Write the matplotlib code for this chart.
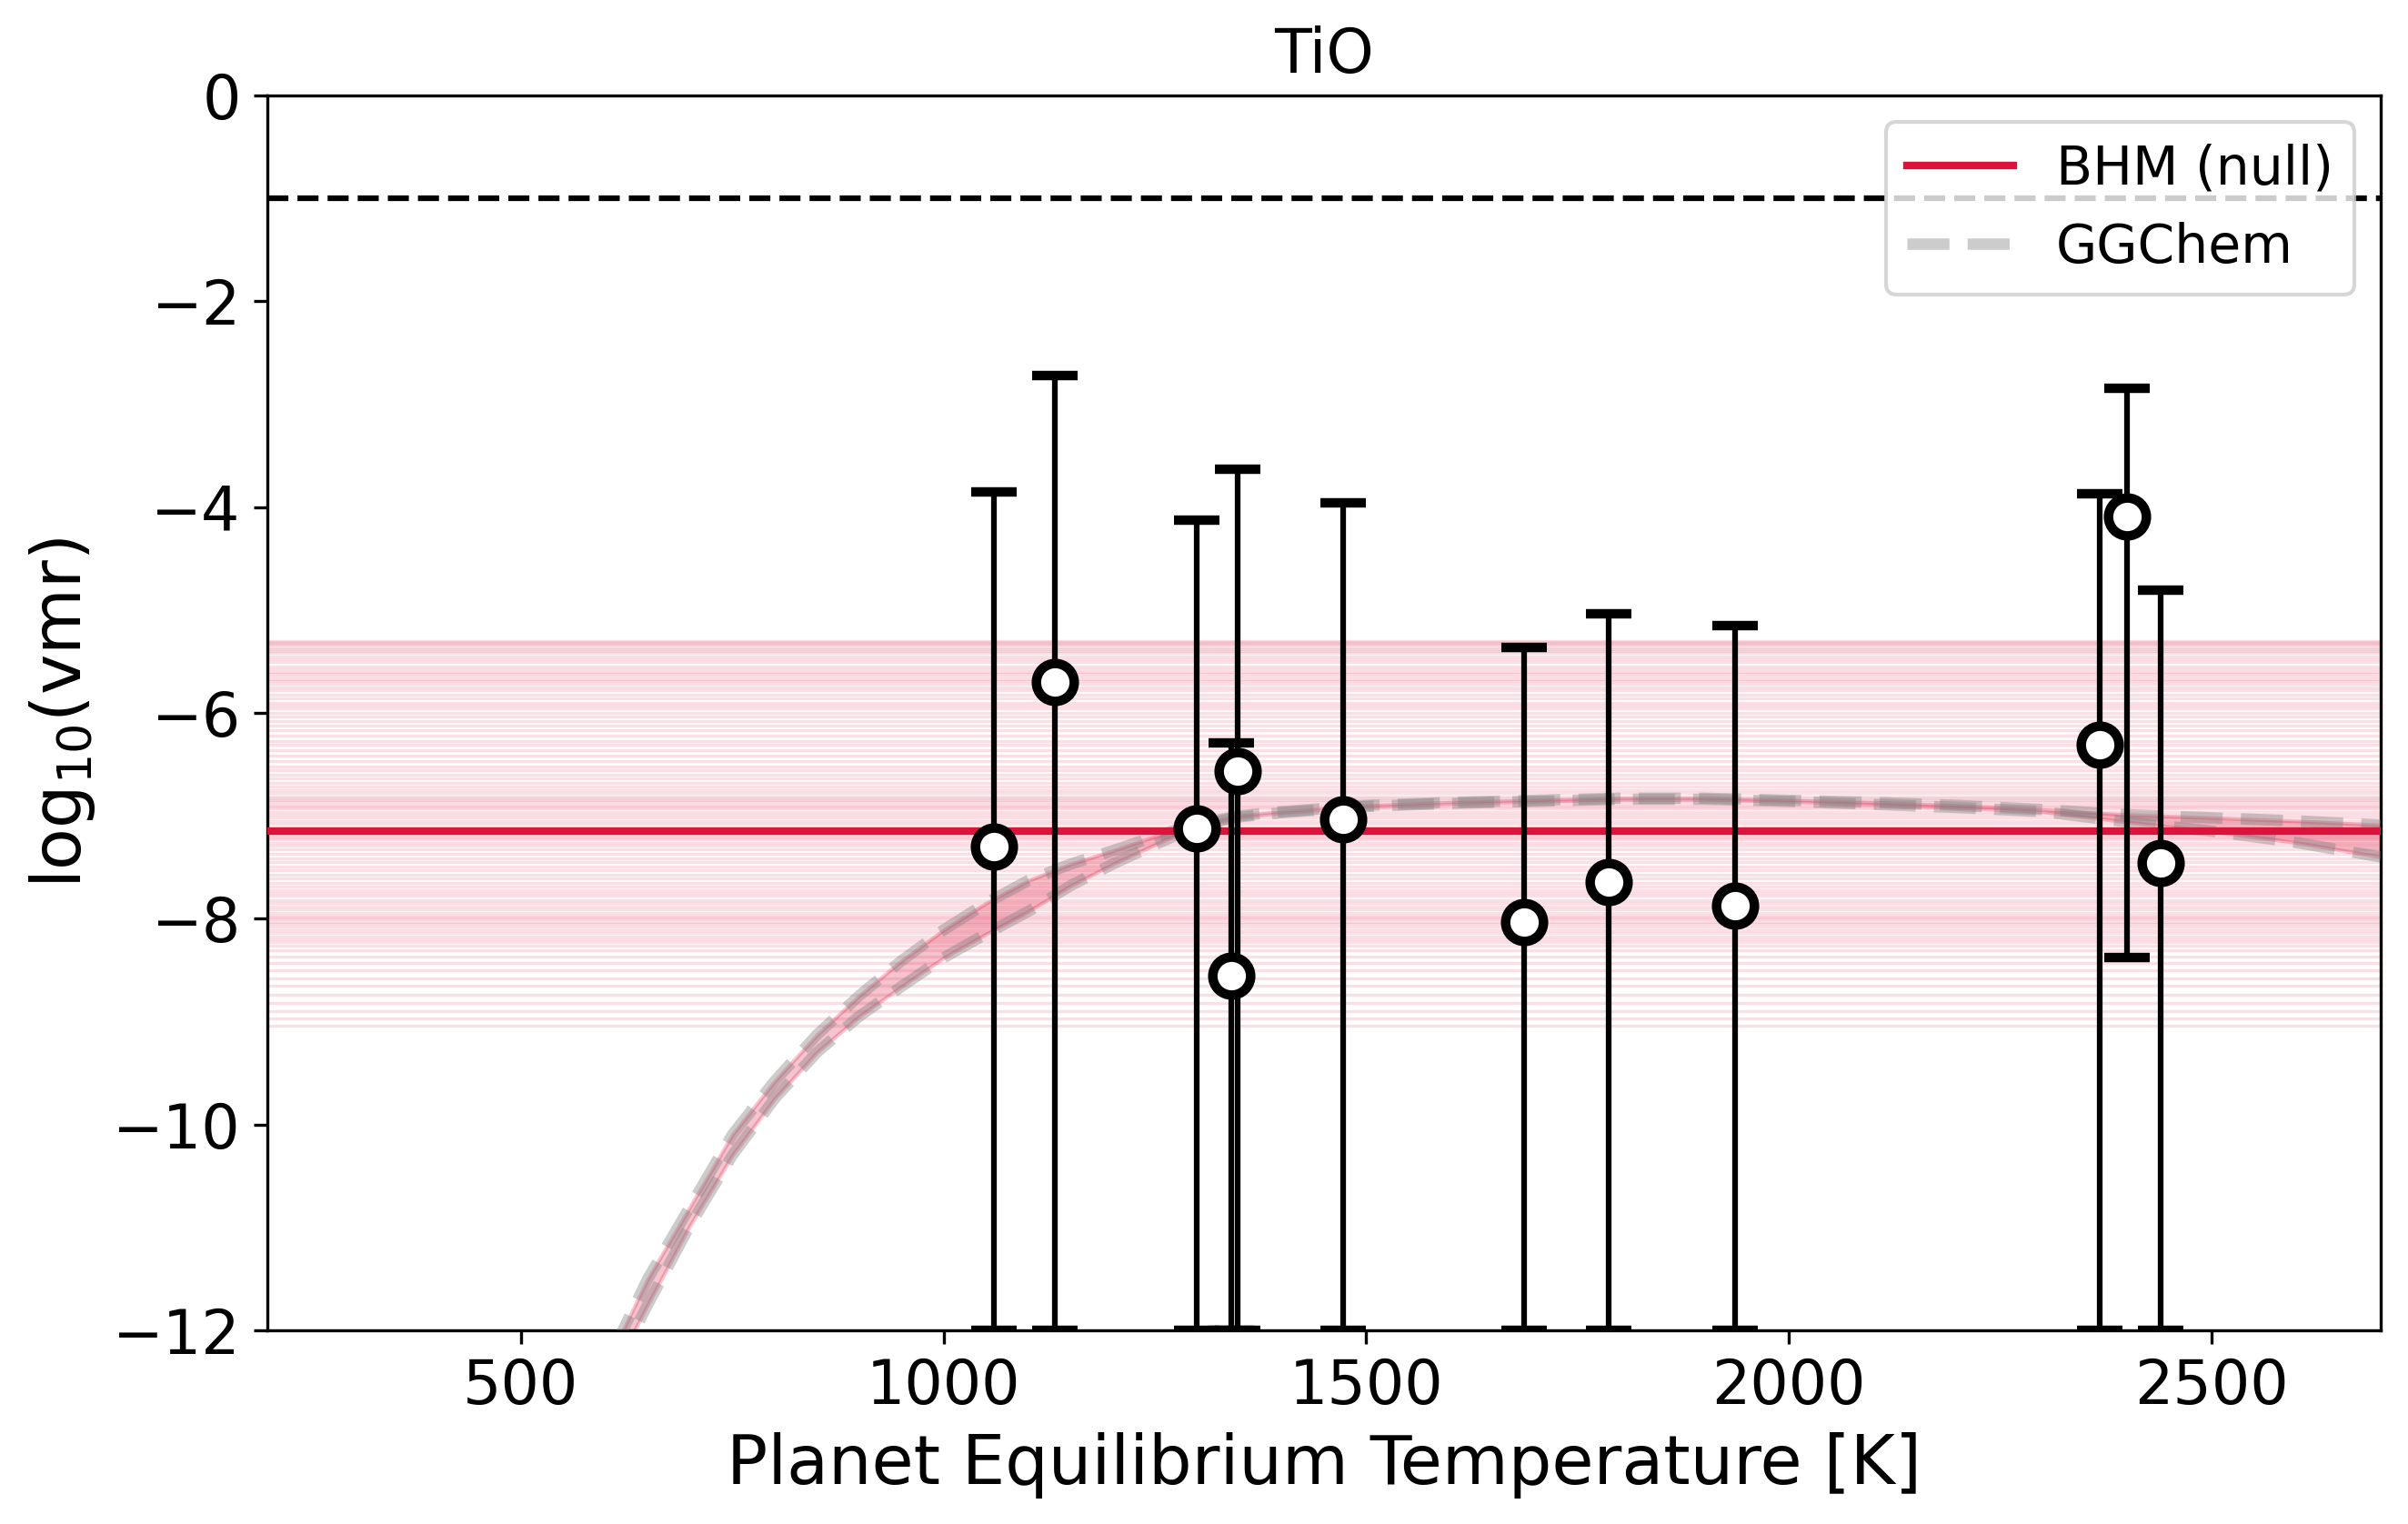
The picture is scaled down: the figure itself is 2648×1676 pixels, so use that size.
import numpy as np
import matplotlib
matplotlib.use("Agg")
import matplotlib.pyplot as plt

# ---------------- data ----------------
teq = [1059, 1132, 1299, 1340, 1348, 1473, 1687, 1787, 1936, 2367, 2400, 2440]
vmr = [-7.30, -5.70, -7.12, -8.55, -6.57, -7.03, -8.03, -7.64, -7.87, -6.31, -4.09, -7.46]
upper = [-3.85, -2.72, -4.13, -6.29, -3.63, -3.96, -5.36, -5.04, -5.15, -3.87, -2.85, -4.81]
lower = [-12.0, -12.0, -12.0, -12.0, -12.0, -12.0, -12.0, -12.0, -12.0, -12.0, -8.38, -12.0]

bhm_null = -7.15
ref_level = -1.0

bhm_samples = [-5.30, -5.31, -5.33, -5.34, -5.36, -5.38, -5.40, -5.42, -5.45, -5.48,
               -5.51, -5.55, -5.58, -5.60, -5.62, -5.65, -5.67, -5.69, -5.72, -5.75,
               -5.78, -5.82, -5.86, -5.90, -5.93, -5.96, -6.00, -6.04, -6.08, -6.12,
               -6.17, -6.22, -6.27, -6.31, -6.36, -6.42, -6.47, -6.52, -6.56, -6.60,
               -6.64, -6.68, -6.72, -6.75, -6.78, -6.81, -6.83, -6.85, -6.87, -6.89,
               -6.91, -6.93, -6.96, -6.99, -7.02, -7.05, -7.08, -7.11, -7.13, -7.17,
               -7.19, -7.21, -7.23, -7.26, -7.29, -7.33, -7.37, -7.41, -7.45, -7.49,
               -7.53, -7.57, -7.61, -7.65, -7.69, -7.72, -7.75, -7.78, -7.82, -7.85,
               -7.88, -7.91, -7.94, -7.97, -7.99, -8.01, -8.03, -8.05, -8.08, -8.11,
               -8.14, -8.17, -8.20, -8.23, -8.26, -8.31, -8.37, -8.43, -8.50, -8.58,
               -8.65, -8.74, -8.82, -8.90, -8.97, -9.04]

gg_T = [550, 600, 650, 700, 750, 800, 850, 900, 950, 1000, 1050, 1100, 1150, 1200,
        1250, 1300, 1350, 1400, 1500, 1600, 1700, 1800, 1900, 2000, 2100, 2200,
        2300, 2400, 2500, 2600, 2700]
gg_upper = [-13.3, -12.35, -11.5, -10.8, -10.1, -9.58, -9.13, -8.75, -8.41, -8.11,
            -7.85, -7.63, -7.47, -7.34, -7.20, -7.08, -7.00, -6.96, -6.90, -6.87,
            -6.85, -6.83, -6.83, -6.85, -6.87, -6.90, -6.94, -6.99, -7.02, -7.05, -7.09]
gg_lower = [-13.5, -12.55, -11.75, -10.98, -10.3, -9.75, -9.3, -8.95, -8.66, -8.38,
            -8.15, -7.93, -7.68, -7.47, -7.28, -7.10, -7.01, -6.97, -6.91, -6.88,
            -6.86, -6.84, -6.84, -6.86, -6.89, -6.92, -6.96, -7.06, -7.15, -7.26, -7.40]

xticks = [500, 1000, 1500, 2000, 2500]
yticks = [0, -2, -4, -6, -8, -10, -12]

# ---------------- plot ----------------
fig, ax = plt.subplots(figsize=(2648 / 300, 1676 / 300), dpi=300)
fig.subplots_adjust(left=0.111, right=0.9887, top=0.9374, bottom=0.1271)

for s in bhm_samples:
    ax.axhline(s, color="crimson", alpha=0.13, lw=0.8, zorder=1)

ax.fill_between(gg_T, gg_lower, gg_upper, color="crimson", alpha=0.25, lw=1, zorder=2)
ax.plot(gg_T, gg_upper, ls="--", color="gray", alpha=0.4, lw=3, zorder=3, label="GGChem")
ax.plot(gg_T, gg_lower, ls="--", color="gray", alpha=0.4, lw=3, zorder=3)

ax.axhline(bhm_null, color="crimson", lw=2, zorder=4, label="BHM (null)")
ax.axhline(ref_level, color="black", ls="--", lw=1.5, zorder=4)

vmr_a = np.array(vmr)
yerr = [vmr_a - np.array(lower), np.array(upper) - vmr_a]
ax.errorbar(teq, vmr, yerr=yerr, fmt="o", color="black", ecolor="black",
            elinewidth=1.5, capsize=6, capthick=1.3, ms=10, mfc="white",
            mec="black", mew=2.5, zorder=5)

ax.set_xlim(200, 2700)
ax.set_ylim(-12, 0)
ax.set_xticks(xticks)
ax.set_yticks(yticks)
ax.tick_params(labelsize=16)
ax.set_xlabel("Planet Equilibrium Temperature [K]", fontsize=18)
ax.set_ylabel(r"log$_{10}$(vmr)", fontsize=18)
ax.set_title("TiO", fontsize=16)

handles, labels = ax.get_legend_handles_labels()
order = [labels.index("BHM (null)"), labels.index("GGChem")]
ax.legend([handles[i] for i in order], [labels[i] for i in order],
          loc="upper right", fontsize=14)

fig.savefig("out.png", dpi=300)
